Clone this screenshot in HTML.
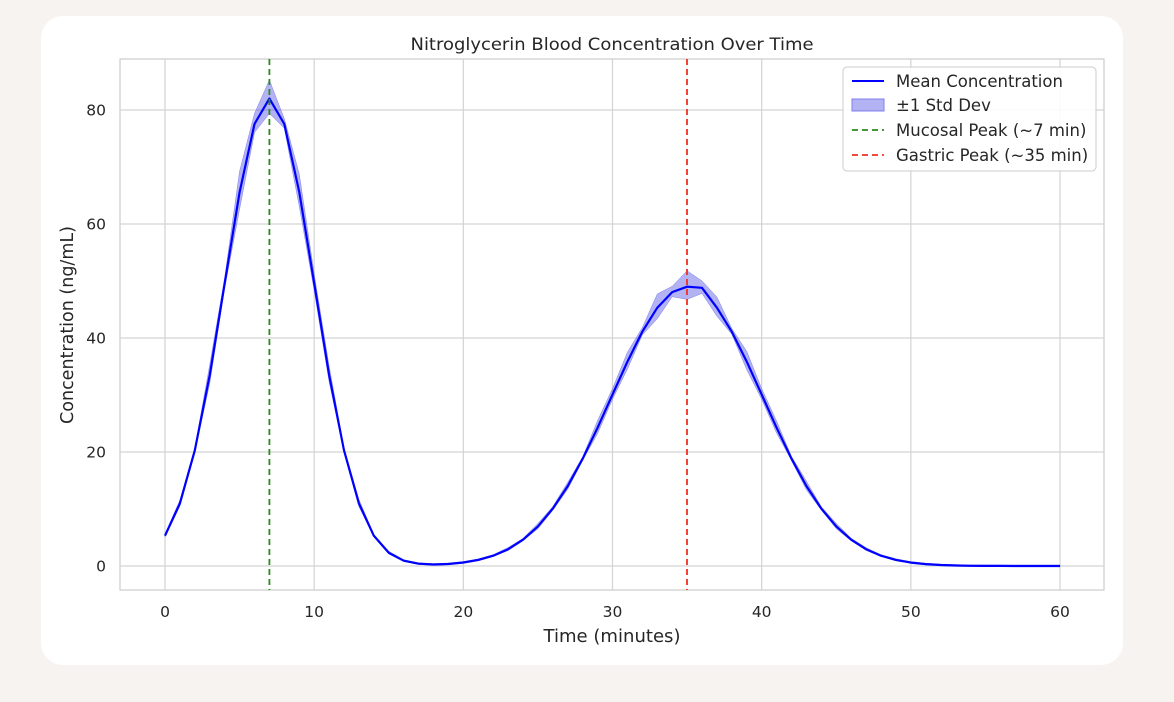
<!DOCTYPE html>
<html><head><meta charset="utf-8"><style>
body{margin:0;width:1174px;height:702px;background:#f7f3f0;font-family:"Liberation Sans","DejaVu Sans",sans-serif;overflow:hidden}
.card{position:absolute;left:41px;top:16px;width:1082px;height:649px;background:#fff;border-radius:22px}
svg{position:absolute;left:0;top:0}
text{font-family:"DejaVu Sans","Liberation Sans",sans-serif;fill:#262626}
</style></head><body>
<div class="card"></div>
<svg width="1174" height="702" id="s">
<text x="612" y="50" font-size="17" text-anchor="middle" textLength="403" lengthAdjust="spacingAndGlyphs">Nitroglycerin Blood Concentration Over Time</text>
<rect x="120" y="59" width="984" height="531" fill="none" stroke="#ccc" stroke-width="1.2"/>
<g id="grid" stroke="#d3d3d3" stroke-width="1.2"></g>
<g id="ticks" font-size="15.5"></g>
<path id="band" fill="#4040e0" fill-opacity="0.4" stroke="#8080f0" stroke-width="0.5"/>
<path id="line" fill="none" stroke="#0000ff" stroke-width="2.2" stroke-linejoin="round"/>
<line x1="269.4" y1="59" x2="269.4" y2="590" stroke="#2a8a1a" stroke-width="1.8" stroke-dasharray="6,4"/>
<line x1="687" y1="59" x2="687" y2="590" stroke="#f03020" stroke-width="1.8" stroke-dasharray="6,4"/>
<text x="612" y="642" font-size="17.5" text-anchor="middle" textLength="137" lengthAdjust="spacingAndGlyphs">Time (minutes)</text>
<text transform="translate(73,325) rotate(-90)" font-size="17.5" text-anchor="middle">Concentration (ng/mL)</text>
<rect x="843" y="67" width="253" height="104" rx="4" fill="#fff" fill-opacity="0.85" stroke="#ccc"/>
<line x1="852" y1="81" x2="884" y2="81" stroke="#0000ff" stroke-width="2"/>
<rect x="852" y="99" width="32" height="12" fill="#4040e0" fill-opacity="0.4" stroke="#8080f0"/>
<line x1="852" y1="130" x2="884" y2="130" stroke="#2a8a1a" stroke-width="1.8" stroke-dasharray="6,4"/>
<line x1="852" y1="155" x2="884" y2="155" stroke="#f03020" stroke-width="1.8" stroke-dasharray="6,4"/>
<g font-size="16.5">
<text x="896" y="87">Mean Concentration</text>
<text x="896" y="111">±1 Std Dev</text>
<text x="896" y="136">Mucosal Peak (~7 min)</text>
<text x="896" y="161">Gastric Peak (~35 min)</text>
</g>
</svg>
<script>
var px=t=>165+t*14.917, py=v=>566-v*5.7;
var g=document.getElementById('grid'),tk=document.getElementById('ticks'),h='',k='';
for(var t=0;t<=60;t+=10){h+=`<line x1="${px(t)}" y1="59" x2="${px(t)}" y2="590"/>`;k+=`<text x="${px(t)}" y="617" text-anchor="middle">${t}</text>`;}
for(var v=0;v<=80;v+=20){h+=`<line x1="120" y1="${py(v)}" x2="1104" y2="${py(v)}"/>`;k+=`<text x="106" y="${py(v)+5.5}" text-anchor="end">${v}</text>`;}
g.innerHTML=h;tk.innerHTML=k;
var f=t=>82*Math.exp(-(t-7)*(t-7)/17.9)+49*Math.exp(-(t-35)*(t-35)/51.2);
var noise=[0,0.3,-0.4,0.5,-0.3,0.6,-0.2,0.2,-0.5,0.4];
var L='',U=[],D=[];
for(var t=0;t<=60;t++){var m=f(t);if(t==36)m=48.8;var s=0.03*m+0.15+noise[t%10]*0.04*m;
L+=(t?'L':'M')+px(t).toFixed(1)+','+py(m).toFixed(1);
U.push(px(t).toFixed(1)+','+py(m+Math.abs(s)).toFixed(1));D.unshift(px(t).toFixed(1)+','+py(m-Math.abs(s)*0.8).toFixed(1));}
document.getElementById('line').setAttribute('d',L);
document.getElementById('band').setAttribute('d','M'+U.join('L')+'L'+D.join('L')+'Z');
</script>
</body></html>
